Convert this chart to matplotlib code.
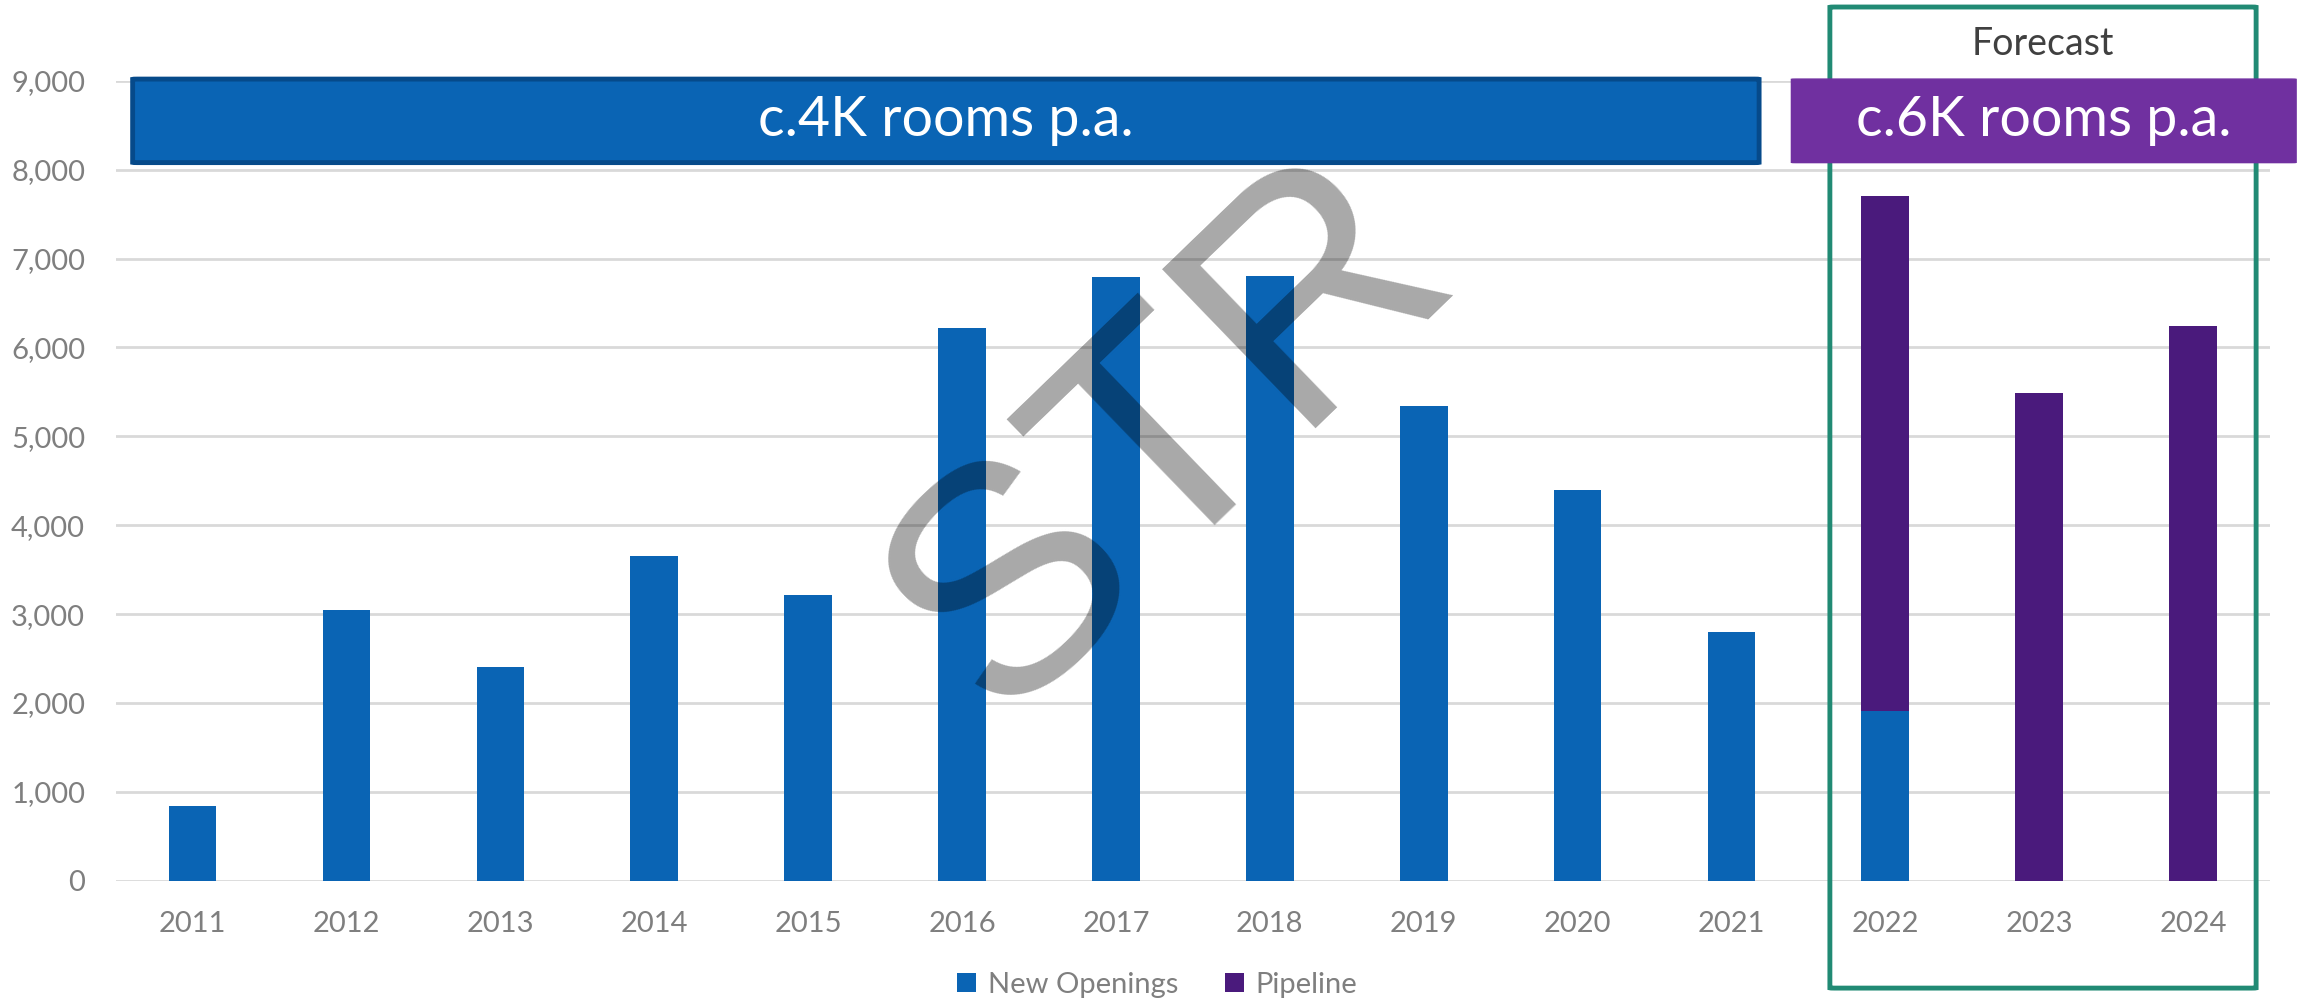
import numpy as np
import matplotlib
matplotlib.use("Agg")
import matplotlib.pyplot as plt
from matplotlib.patches import FancyBboxPatch

# DATA
years = ["2011", "2012", "2013", "2014", "2015", "2016", "2017",
         "2018", "2019", "2020", "2021", "2022", "2023", "2024"]
new_openings = [840, 3050, 2400, 3650, 3210, 6220, 6790,
                6800, 5340, 4400, 2800, 1910, 0, 0]
pipeline = [0, 0, 0, 0, 0, 0, 0,
            0, 0, 0, 0, 5790, 5490, 6240]
y_ticks = [0, 1000, 2000, 3000, 4000, 5000, 6000, 7000, 8000, 9000]

# COLOURS
blue = "#0A64B4"
purple = "#4A1A7C"
box_purple = "#7030A0"
green = "#218A74"
grey = "#7F7F7F"

plt.rcParams["font.family"] = ["Lato", "DejaVu Sans"]

fig = plt.figure(figsize=(23.05, 10.02), dpi=100)
ax = fig.add_axes([0.0502, 0.1211, 0.9346, 0.7982])

x = np.arange(len(years))
ax.bar(x, new_openings, width=0.31, color=blue, label="New Openings", zorder=2)
ax.bar(x, pipeline, width=0.31, bottom=new_openings, color=purple,
       label="Pipeline", zorder=2)

ax.set_xlim(-0.5, len(years) - 0.5)
ax.set_ylim(0, 9000)
ax.set_yticks(y_ticks)
ax.set_yticklabels([f"{v:,}" for v in y_ticks])
ax.set_xticks(x)
ax.set_xticklabels(years)
ax.tick_params(axis="both", length=0, labelsize=21, labelcolor=grey)
ax.tick_params(axis="x", pad=22)
ax.tick_params(axis="y", pad=22)
ax.grid(axis="y", color="#D9D9D9", linewidth=2, zorder=0)
ax.set_axisbelow(True)
for s in ax.spines.values():
    s.set_visible(False)

# annotation boxes
ax.add_patch(FancyBboxPatch((-0.39, 8080), 10.57, 940,
                            boxstyle="round,pad=0,rounding_size=0.03",
                            facecolor=blue, edgecolor="#064A8A", linewidth=3.5,
                            clip_on=False, zorder=5, mutation_aspect=100))
ax.text(4.895, 8550, "c.4K rooms p.a.", ha="center", va="center",
        fontsize=40, color="white", zorder=6)

ax.add_patch(FancyBboxPatch((10.64, -1209), 2.77, 11040,
                            boxstyle="round,pad=0,rounding_size=0.03",
                            facecolor="none", edgecolor=green, linewidth=3.5,
                            clip_on=False, zorder=4, mutation_aspect=100))
ax.text(12.025, 9420, "Forecast", ha="center", va="center",
        fontsize=27, color="#404040", zorder=6)

ax.add_patch(FancyBboxPatch((10.39, 8080), 3.28, 940,
                            boxstyle="round,pad=0,rounding_size=0.03",
                            facecolor=box_purple, edgecolor=box_purple,
                            linewidth=1, clip_on=False, zorder=5,
                            mutation_aspect=100))
ax.text(12.03, 8550, "c.6K rooms p.a.", ha="center", va="center",
        fontsize=40, color="white", zorder=6)

# watermark
fig.text(0.508, 0.563, "STR", ha="center", va="center", rotation=44,
         fontsize=232, family="Liberation Sans", color="black", alpha=0.34,
         zorder=10)

fig.legend(loc="lower center", bbox_to_anchor=(0.502, -0.022), ncol=2,
           frameon=False, fontsize=21, labelcolor=grey, handlelength=0.65,
           handleheight=0.65, handletextpad=0.4, columnspacing=1.6)

fig.savefig("out.png", dpi=100)
